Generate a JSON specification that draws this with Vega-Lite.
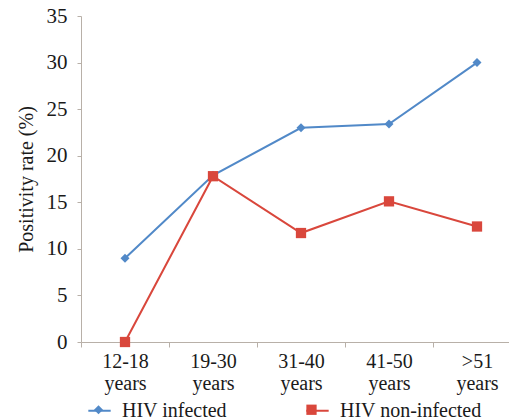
{
  "$schema": "https://vega.github.io/schema/vega-lite/v6.json",
  "width": 440,
  "height": 326,
  "autosize": "none",
  "padding": {"left": 81, "top": 16, "right": 0, "bottom": 77},
  "background": "white",
  "config": {
    "view": {"stroke": null},
    "font": "Liberation Serif, DejaVu Serif, serif",
    "axis": {"labelFont": "Liberation Serif, DejaVu Serif, serif", "titleFont": "Liberation Serif, DejaVu Serif, serif", "labelColor": "#1a1a1a", "titleColor": "#1a1a1a", "domainColor": "#b8b0a8", "tickColor": "#b8b0a8", "grid": false},
    "legend": {"labelFont": "Liberation Serif, DejaVu Serif, serif"}
  },
  "data": {
    "values": [
      {"age": "12-18 years", "group": "HIV infected", "rate": 9.0},
      {"age": "19-30 years", "group": "HIV infected", "rate": 17.9},
      {"age": "31-40 years", "group": "HIV infected", "rate": 23.0},
      {"age": "41-50 years", "group": "HIV infected", "rate": 23.4},
      {"age": ">51 years", "group": "HIV infected", "rate": 30.0},
      {"age": "12-18 years", "group": "HIV non-infected", "rate": 0},
      {"age": "19-30 years", "group": "HIV non-infected", "rate": 17.8},
      {"age": "31-40 years", "group": "HIV non-infected", "rate": 11.7},
      {"age": "41-50 years", "group": "HIV non-infected", "rate": 15.1},
      {"age": ">51 years", "group": "HIV non-infected", "rate": 12.4}
    ]
  },
  "encoding": {
    "x": {
      "field": "age", "type": "nominal", "sort": null,
      "scale": {"paddingInner": 0, "paddingOuter": 0},
      "axis": {
        "title": null, "labelAngle": 0, "labelFontSize": 20, "labelPadding": 4,
        "tickBand": "extent", "tickSize": 5,
        "labelExpr": "split(datum.label, ' ')", "labelLineHeight": 22
      }
    },
    "y": {
      "field": "rate", "type": "quantitative",
      "scale": {"domain": [0, 35], "nice": false},
      "axis": {"title": "Positivity rate (%)", "titleFontSize": 20, "titleFontWeight": "normal", "titlePadding": 10, "values": [0, 5, 10, 15, 20, 25, 30, 35], "labelFontSize": 21, "tickSize": 4, "labelPadding": 10}
    }
  },
  "layer": [
    {
      "mark": {"type": "line", "strokeWidth": 2},
      "encoding": {
        "color": {
          "field": "group", "type": "nominal",
          "scale": {"domain": ["HIV infected", "HIV non-infected"], "range": ["#5189c8", "#d9473c"]},
          "legend": {
            "title": null, "orient": "none", "legendX": 6, "legendY": 382, "direction": "horizontal",
            "labelFontSize": 20, "labelColor": "#1a1a1a",
            "symbolType": "stroke", "symbolSize": 500, "symbolStrokeWidth": 2,
            "columnPadding": 75, "labelOffset": 10
          }
        }
      }
    },
    {
      "mark": {"type": "point", "filled": true, "opacity": 1, "size": 500, "strokeWidth": 0},
      "encoding": {
        "color": {
          "field": "group", "type": "nominal",
          "legend": {
            "title": null, "orient": "none", "legendX": 6, "legendY": 382, "direction": "horizontal",
            "labelFontSize": 20, "labelOpacity": 0,
            "symbolSize": 500, "symbolStrokeWidth": 0,
            "columnPadding": 75, "labelOffset": 10
          }
        },
        "shape": {
          "field": "group", "type": "nominal",
          "scale": {"domain": ["HIV infected", "HIV non-infected"], "range": ["M0,-0.4L0.4,0L0,0.4L-0.4,0Z", "M-0.46,-0.46H0.46V0.46H-0.46Z"]},
          "legend": {
            "title": null, "orient": "none", "legendX": 6, "legendY": 382, "direction": "horizontal",
            "labelFontSize": 20, "labelOpacity": 0,
            "symbolSize": 500, "symbolStrokeWidth": 0,
            "columnPadding": 75, "labelOffset": 10
          }
        }
      }
    }
  ],
  "resolve": {"legend": {"color": "independent", "shape": "independent"}}
}
